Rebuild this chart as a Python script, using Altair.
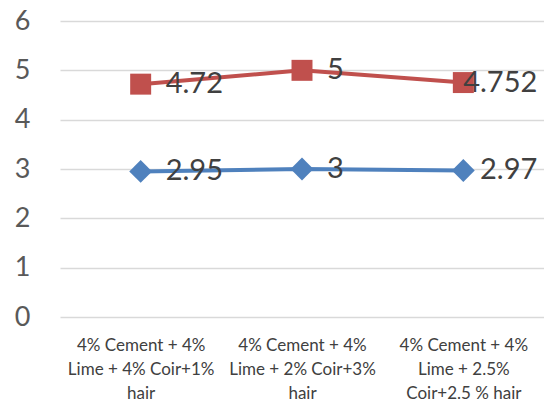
import altair as alt
import pandas as pd

categories = [
    "4% Cement + 4%\nLime + 4% Coir+1%\nhair",
    "4% Cement + 4%\nLime + 2% Coir+3%\nhair",
    "4% Cement + 4%\nLime + 2.5%\nCoir+2.5 % hair",
]
series_names = ["Series A", "Series B"]
series_a = [2.95, 3, 2.97]
series_b = [4.72, 5, 4.752]
label_a = ["2.95", "3", "2.97"]
label_b = ["4.72", "5", "4.752"]

rows = []
for i, c in enumerate(categories):
    rows.append({"cat": c, "series": series_names[0], "value": series_a[i], "label": label_a[i], "idx": i})
    rows.append({"cat": c, "series": series_names[1], "value": series_b[i], "label": label_b[i], "idx": i})
df = pd.DataFrame(rows)

colors = ["#4F81BD", "#C0504D"]
FONT = "Lato"

x_enc = alt.X(
    "cat:N",
    sort=categories,
    scale=alt.Scale(paddingInner=0, paddingOuter=0),
    axis=alt.Axis(
        title=None, labelAngle=0, domain=False, ticks=False, grid=False,
        labelExpr="split(datum.label, '\\n')",
        labelFontSize=17, labelFont=FONT, labelColor="#404040",
        labelLineHeight=24, labelPadding=20, labelLimit=300,
    ),
)
y_enc = alt.Y(
    "value:Q",
    scale=alt.Scale(domain=[0, 6], nice=False),
    axis=alt.Axis(
        title=None, values=[0, 1, 2, 3, 4, 5, 6], domain=False, ticks=False,
        labelFontSize=27, labelFont=FONT, labelColor="#595959", labelPadding=30,
        grid=True, gridColor="#D9D9D9", gridWidth=1.5,
    ),
)
color_enc = alt.Color("series:N", scale=alt.Scale(domain=series_names, range=colors), legend=None)

base = alt.Chart(df)

lines = base.mark_line(strokeWidth=4).encode(x=x_enc, y=y_enc, color=color_enc, detail="series:N")
pts_a = base.transform_filter(alt.datum.series == series_names[0]).mark_point(
    shape="diamond", filled=True, size=520, opacity=1
).encode(x=x_enc, y=y_enc, color=color_enc)
pts_b = base.transform_filter(alt.datum.series == series_names[1]).mark_point(
    shape="square", filled=True, size=440, opacity=1
).encode(x=x_enc, y=y_enc, color=color_enc)

txt_left = base.transform_filter(alt.datum.idx < 2).mark_text(
    align="left", baseline="middle", dx=25, fontSize=29, font=FONT, color="#404040"
).encode(x=x_enc, y=y_enc, text="label:N")
txt_right = base.transform_filter(alt.datum.idx == 2).mark_text(
    align="right", baseline="middle", dx=74, fontSize=29, font=FONT, color="#404040"
).encode(x=x_enc, y=y_enc, text="label:N")

chart = alt.layer(lines, pts_a, pts_b, txt_left, txt_right).properties(
    width=484, height=296,
    background="white",
    autosize=alt.AutoSizeParams(type="none"),
    padding={"left": 60, "top": 21, "right": 0, "bottom": 89},
).configure_view(stroke=None)

chart.save("out.html", embed_options={"renderer": "svg", "actions": False})
